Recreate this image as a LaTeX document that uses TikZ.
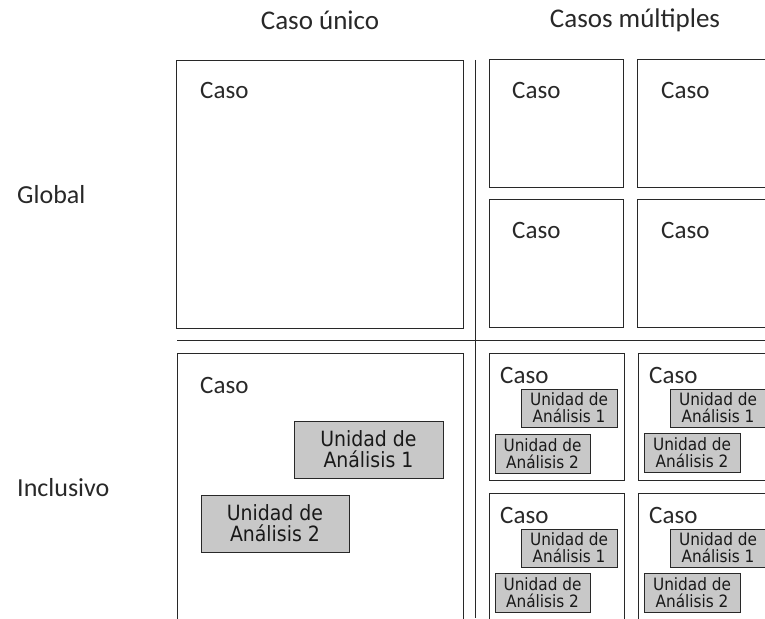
\documentclass[tikz,border=0pt]{standalone}
\usepackage{fontspec}
\setmainfont{Carlito}
\newfontfamily\uafont{DejaVu Sans Condensed}
\definecolor{uafill}{RGB}{200,200,200}
\definecolor{ink}{RGB}{40,40,40}
\begin{document}
\begin{tikzpicture}[x=1pt,y=-1pt,
  frame/.style={draw=ink, line width=0.9pt},
  divider/.style={draw=ink, line width=0.9pt},
  ua/.style={draw=ink, fill=uafill, line width=0.8pt, align=center, inner sep=0pt,
    text=black!90, font=\uafont\fontsize{21}{21}\selectfont},
  uas/.style={ua, font=\uafont\fontsize{17}{17}\selectfont},
  caso/.style={anchor=west, inner sep=0pt, text=ink, font=\fontsize{25}{30}\selectfont},
  head/.style={inner sep=0pt, text=ink, font=\fontsize{27}{30}\selectfont},
  side/.style={anchor=west, inner sep=0pt, text=ink, font=\fontsize{26}{30}\selectfont}]
\useasboundingbox (0,0) rectangle (765,618);
\clip (0,0) rectangle (765,618);

% headers
\node[head] (h1) at (320,20) {Caso único};
\node[head] (h2) at (635,20) {Casos múltiples};
\node[side] (l1) at (17,195) {Global};
\node[side] (l2) at (17,488) {Inclusivo};

% dividers
\draw[divider] (475,60) -- (475,618);
\draw[divider] (177,340) -- (765,340);

% top-left: single global case
\draw[frame] (176,60) rectangle (463,328);
\node[caso] (c0) at (200,90) {Caso};

% top-right: multiple global cases
\draw[frame] (489,59) rectangle (623,187);
\draw[frame] (637,59) rectangle (775,187);
\draw[frame] (489,199) rectangle (623,327);
\draw[frame] (637,199) rectangle (775,327);
\node[caso] (c1) at (512,90) {Caso};
\node[caso] (c2) at (661,90) {Caso};
\node[caso] (c3) at (512,230) {Caso};
\node[caso] (c4) at (661,230) {Caso};

% bottom-left: single inclusive case
\draw[frame] (177,353) rectangle (463,640);
\node[caso] (c5) at (200,385) {Caso};
\node[ua, minimum width=149pt, minimum height=57pt] (u1) at (368.5,449.5) {Unidad de\\Análisis 1};
\node[ua, minimum width=148pt, minimum height=57pt] (u2) at (275,523.5) {Unidad de\\Análisis 2};

% bottom-right: multiple inclusive cases
\draw[frame] (489,353) rectangle (624,480);
\draw[frame] (638,353) rectangle (775,480);
\draw[frame] (489,493) rectangle (624,640);
\draw[frame] (638,493) rectangle (775,640);

\node[caso] (c6) at (500,375) {Caso};
\node[caso] (c7) at (649,375) {Caso};
\node[caso] (c8) at (500,515) {Caso};
\node[caso] (c9) at (649,515) {Caso};

\node[uas, minimum width=96pt, minimum height=38pt] (a1) at (569,408) {Unidad de\\Análisis 1};
\node[uas, minimum width=95pt, minimum height=39pt] (b1) at (542.5,453.5) {Unidad de\\Análisis 2};
\node[uas, minimum width=96pt, minimum height=38pt] (a2) at (718,408) {Unidad de\\Análisis 1};
\node[uas, minimum width=96pt, minimum height=39pt] (b2) at (692,452.5) {Unidad de\\Análisis 2};
\node[uas, minimum width=96pt, minimum height=38pt] (a3) at (569,548) {Unidad de\\Análisis 1};
\node[uas, minimum width=95pt, minimum height=39pt] (b3) at (542.5,593) {Unidad de\\Análisis 2};
\node[uas, minimum width=96pt, minimum height=38pt] (a4) at (718,548) {Unidad de\\Análisis 1};
\node[uas, minimum width=96pt, minimum height=39pt] (b4) at (692,593) {Unidad de\\Análisis 2};
\end{tikzpicture}
\end{document}
